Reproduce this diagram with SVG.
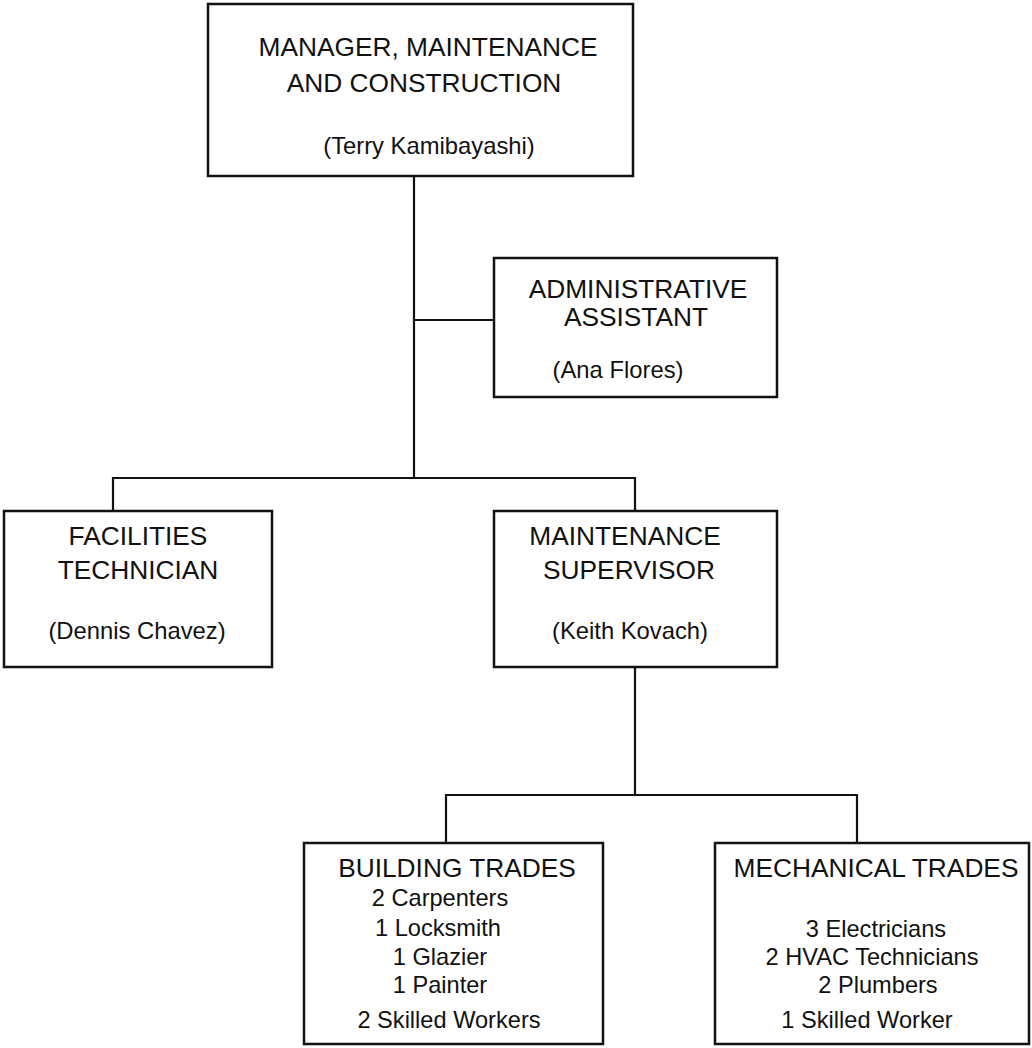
<svg xmlns="http://www.w3.org/2000/svg" width="1032" height="1048" viewBox="0 0 1032 1048">
<style>
.box{fill:#fff;stroke:#111;stroke-width:2.5}
.ln{fill:none;stroke:#111;stroke-width:2.2}
text{font-family:"Liberation Sans",Arial,sans-serif;fill:#111;text-anchor:middle}
.t{font-size:26.3px}
.s{font-size:23.8px}
.i{font-size:23.6px}
</style>
<rect width="1032" height="1048" fill="#fff"/>
<g id="connectors">
<path class="ln" d="M414 177V478M414 320H493M113 510V478H635V510M635 668V795M446 842V795H857V842"/>
</g>
<g id="manager">
<rect class="box" x="208" y="4" width="425" height="172"/>
<text class="t" x="428" y="56">MANAGER, MAINTENANCE</text>
<text class="t" x="424" y="92">AND CONSTRUCTION</text>
<text class="s" x="429" y="154">(Terry Kamibayashi)</text>
</g>
<g id="admin">
<rect class="box" x="494" y="258" width="283" height="139"/>
<text class="t" x="638" y="298">ADMINISTRATIVE</text>
<text class="t" x="636" y="326">ASSISTANT</text>
<text class="s" x="618" y="378">(Ana Flores)</text>
</g>
<g id="facilities">
<rect class="box" x="4" y="511" width="268" height="156"/>
<text class="t" x="138" y="545">FACILITIES</text>
<text class="t" x="138" y="579">TECHNICIAN</text>
<text class="s" x="137" y="639">(Dennis Chavez)</text>
</g>
<g id="supervisor">
<rect class="box" x="494" y="511" width="283" height="156"/>
<text class="t" x="625" y="545">MAINTENANCE</text>
<text class="t" x="629" y="579">SUPERVISOR</text>
<text class="s" x="630" y="639">(Keith Kovach)</text>
</g>
<g id="building">
<rect class="box" x="304" y="843" width="299" height="201"/>
<text class="t" x="457" y="877">BUILDING TRADES</text>
<text class="i" x="440" y="906">2 Carpenters</text>
<text class="i" x="438" y="936">1 Locksmith</text>
<text class="i" x="440" y="965">1 Glazier</text>
<text class="i" x="440" y="993">1 Painter</text>
<text class="i" x="449" y="1028">2 Skilled Workers</text>
</g>
<g id="mechanical">
<rect class="box" x="715" y="843" width="314" height="201"/>
<text class="t" x="876" y="877">MECHANICAL TRADES</text>
<text class="i" x="876" y="937">3 Electricians</text>
<text class="i" x="872" y="965">2 HVAC Technicians</text>
<text class="i" x="878" y="993">2 Plumbers</text>
<text class="i" x="867" y="1028">1 Skilled Worker</text>
</g>
</svg>
